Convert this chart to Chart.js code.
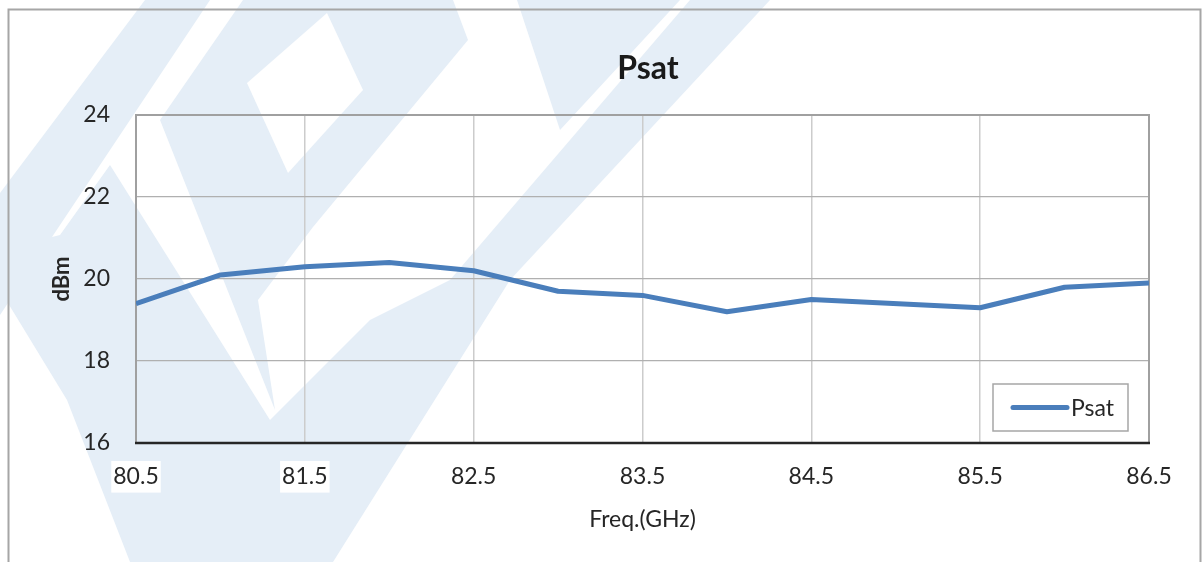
<!DOCTYPE html>
<html>
<head>
<meta charset="utf-8">
<title>Psat</title>
<script src="https://cdn.jsdelivr.net/npm/chart.js@4.4.0/dist/chart.umd.min.js"></script>
<style>
  html, body { margin: 0; padding: 0; background: #fff; }
  canvas { display: block; }
</style>
</head>
<body>
<canvas id="psatChart" width="1202" height="562"></canvas>
<script>
// values
const freqGHz = [80.5, 81, 81.5, 82, 82.5, 83, 83.5, 84, 84.5, 85.5, 86, 86.5];
const psatDbm = [19.4, 20.1, 20.3, 20.4, 20.2, 19.7, 19.6, 19.2, 19.5, 19.3, 19.8, 19.9];
const xTickValues = [80.5, 81.5, 82.5, 83.5, 84.5, 85.5, 86.5];
const yTickValues = [16, 18, 20, 22, 24];

const lineColor = '#4a7ebb';
const textColor = '#262626';
const fontFamily = 'Lato, "Open Sans", sans-serif';

// faint logo watermark behind the chart (decoration only)
const watermarkBlue = [
    [[145, 0], [210, 0], [0, 315], [0, 193]],
    [[60, 235], [110, 165], [270, 420], [300, 562], [130, 562], [67, 400], [0, 290], [0, 250]],
    [[243, 0], [453, 0], [468, 40], [313, 227], [258, 300], [275, 410], [160, 120]],
    [[690, 0], [770, 0], [510, 280], [333, 562], [280, 562], [270, 420], [370, 320], [450, 280]],
    [[517, 0], [680, 0], [560, 130]]
];
const watermarkHoles = [
    [[247, 83], [327, 13], [363, 90], [288, 173]]
];

function fillPolys(ctx, polys, color) {
    ctx.fillStyle = color;
    ctx.beginPath();
    polys.forEach(poly => {
        ctx.moveTo(poly[0][0], poly[0][1]);
        poly.slice(1).forEach(p => ctx.lineTo(p[0], p[1]));
        ctx.closePath();
    });
    ctx.fill('nonzero');
}

const backgroundPlugin = {
    id: 'background',
    beforeDraw(chart) {
        const ctx = chart.ctx;
        ctx.save();
        ctx.fillStyle = '#ffffff';
        ctx.fillRect(0, 0, chart.width, chart.height);
        fillPolys(ctx, watermarkBlue, '#e5eef7');
        fillPolys(ctx, watermarkHoles, '#ffffff');
        // outer frame
        ctx.strokeStyle = '#a6a6a6';
        ctx.lineWidth = 2;
        ctx.beginPath();
        ctx.moveTo(8.5, chart.height);
        ctx.lineTo(8.5, 9.5);
        ctx.lineTo(1200.5, 9.5);
        ctx.lineTo(1200.5, chart.height);
        ctx.stroke();
        // title
        ctx.fillStyle = '#1a1a1a';
        ctx.font = 'bold 32px ' + fontFamily;
        ctx.textAlign = 'center';
        ctx.textBaseline = 'middle';
        ctx.fillText('Psat', 648, 69);
        ctx.restore();
    }
};

const plotFramePlugin = {
    id: 'plotFrame',
    beforeDatasetsDraw(chart) {
        const ctx = chart.ctx;
        const a = chart.chartArea;
        ctx.save();
        ctx.strokeStyle = '#a0a0a0';
        ctx.lineWidth = 2;
        ctx.beginPath();
        ctx.moveTo(a.left, a.bottom);
        ctx.lineTo(a.left, a.top);
        ctx.lineTo(a.right, a.top);
        ctx.lineTo(a.right, a.bottom);
        ctx.stroke();
        ctx.strokeStyle = '#262626';
        ctx.lineWidth = 2.5;
        ctx.beginPath();
        ctx.moveTo(a.left - 1, a.bottom);
        ctx.lineTo(a.right + 1, a.bottom);
        ctx.stroke();
        ctx.restore();
    }
};

const legendBoxPlugin = {
    id: 'legendBox',
    afterDatasetsDraw(chart) {
        const ctx = chart.ctx;
        const a = chart.chartArea;
        const ds = chart.data.datasets[0];
        const w = 135, h = 47;
        const x = a.right - 21 - w, y = a.bottom - 12 - h;
        ctx.save();
        ctx.fillStyle = '#ffffff';
        ctx.fillRect(x, y, w, h);
        ctx.strokeStyle = '#a6a6a6';
        ctx.lineWidth = 1.5;
        ctx.strokeRect(x, y, w, h);
        ctx.strokeStyle = ds.borderColor;
        ctx.lineWidth = 5;
        ctx.lineCap = 'round';
        ctx.beginPath();
        ctx.moveTo(x + 20, y + h / 2);
        ctx.lineTo(x + 74, y + h / 2);
        ctx.stroke();
        ctx.fillStyle = textColor;
        ctx.font = '23px ' + fontFamily;
        ctx.textAlign = 'left';
        ctx.textBaseline = 'middle';
        ctx.fillText(ds.label, x + 78, y + h / 2 + 1);
        ctx.restore();
    }
};

const ctx = document.getElementById('psatChart');
new Chart(ctx, {
    type: 'line',
    data: {
        datasets: [{
            label: 'Psat',
            data: freqGHz.map((f, i) => ({ x: f, y: psatDbm[i] })),
            borderColor: lineColor,
            backgroundColor: lineColor,
            borderWidth: 5,
            borderJoinStyle: 'round',
            pointRadius: 0,
            tension: 0,
            fill: false
        }]
    },
    plugins: [backgroundPlugin, plotFramePlugin, legendBoxPlugin],
    options: {
        responsive: false,
        animation: false,
        layout: { padding: { left: 8, right: 53, top: 115, bottom: 0 } },
        plugins: {
            legend: { display: false },
            title: { display: false },
            tooltip: { enabled: false }
        },
        scales: {
            x: {
                type: 'linear',
                min: 80.5,
                max: 86.5,
                afterBuildTicks: scale => {
                    scale.ticks = xTickValues.map(v => ({ value: v }));
                },
                afterFit: scale => { scale.height = 119; },
                grid: { color: '#cccccc', lineWidth: 1.5, drawTicks: false },
                border: { display: false },
                ticks: {
                    color: textColor,
                    font: { family: fontFamily, size: 23 },
                    padding: 20,
                    maxRotation: 0,
                    autoSkip: false,
                    showLabelBackdrop: true,
                    backdropColor: '#ffffff',
                    backdropPadding: 2,
                    callback: v => v.toFixed(1)
                },
                title: {
                    display: true,
                    text: 'Freq.(GHz)',
                    color: textColor,
                    font: { family: fontFamily, size: 23 },
                    padding: { top: 0, bottom: 29 }
                }
            },
            y: {
                min: 16,
                max: 24,
                afterBuildTicks: scale => {
                    scale.ticks = yTickValues.map(v => ({ value: v }));
                },
                afterFit: scale => { scale.width = 128; },
                grid: { color: '#b0b0b0', lineWidth: 1.3, drawTicks: false },
                border: { display: false },
                ticks: {
                    color: textColor,
                    font: { family: fontFamily, size: 23 },
                    padding: 26
                },
                title: {
                    display: true,
                    text: 'dBm',
                    color: textColor,
                    font: { family: fontFamily, size: 22, weight: 'bold' },
                    padding: { top: 41, bottom: 0 }
                }
            }
        }
    }
});
</script>
</body>
</html>
